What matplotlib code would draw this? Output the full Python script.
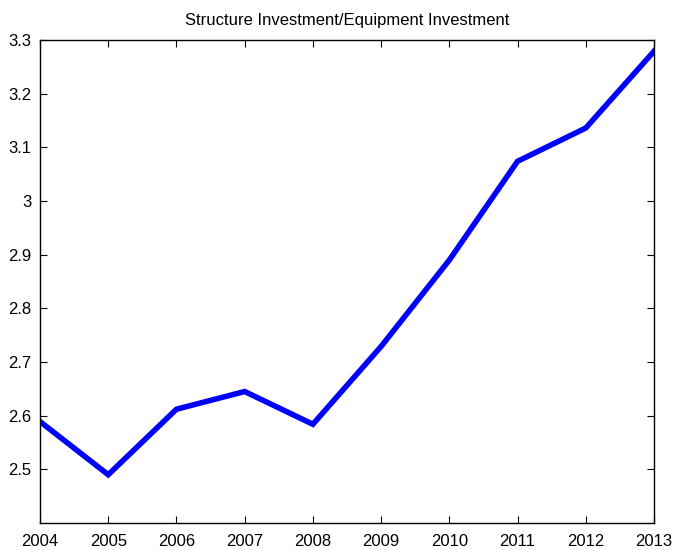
import matplotlib
matplotlib.use("Agg")
import matplotlib.pyplot as plt

years = [2004, 2005, 2006, 2007, 2008, 2009, 2010, 2011, 2012, 2013]
ratio = [2.589, 2.490, 2.612, 2.645, 2.584, 2.729, 2.890, 3.074, 3.136, 3.279]
yticks = [2.5, 2.6, 2.7, 2.8, 2.9, 3.0, 3.1, 3.2, 3.3]
ytick_labels = ["2.5", "2.6", "2.7", "2.8", "2.9", "3", "3.1", "3.2", "3.3"]

plt.rcParams['font.family'] = ['Liberation Sans', 'DejaVu Sans']
fig = plt.figure(figsize=(6.77, 5.5), dpi=100)
ax = fig.add_axes([40/677, 27/550, 614/677, 483/550])
ax.plot(years, ratio, color='#0000ff', linewidth=4, solid_joinstyle='miter')
ax.set_xlim(2004, 2013)
ax.set_ylim(2.4, 3.3)
ax.set_xticks(years)
ax.set_xticklabels([str(y) for y in years])
ax.set_yticks(yticks)
ax.set_yticklabels(ytick_labels)
ax.tick_params(direction='in', labelsize=12, length=5, top=True, right=True, pad=6)
ax.tick_params(axis='x', pad=8)
for s in ax.spines.values():
    s.set_linewidth(1.0)
ax.set_title("Structure Investment/Equipment Investment", fontsize=12, pad=11)
fig.savefig("out.png", dpi=100)
